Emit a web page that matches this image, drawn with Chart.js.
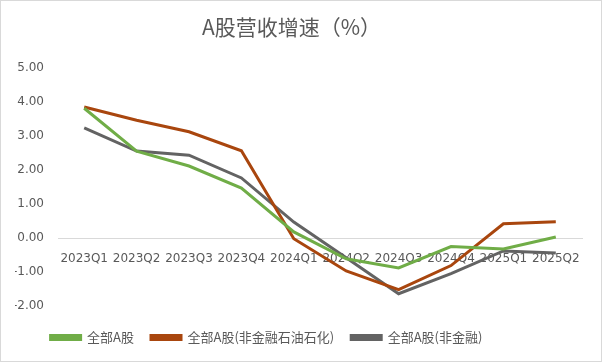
<!DOCTYPE html>
<html>
<head>
<meta charset="utf-8">
<script src="https://cdn.jsdelivr.net/npm/chart.js@4"></script>
<style>
  html, body { margin: 0; padding: 0; background: #fff; }
  #wrap { position: relative; width: 600px; height: 360px; border: 1px solid #d9d9d9; }
</style>
</head>
<body>
<div id="wrap"><canvas id="c"></canvas></div>
<script>
// 季度与三条营收增速序列（单位 %）
const quarters = ["2023Q1", "2023Q2", "2023Q3", "2023Q4", "2024Q1", "2024Q2", "2024Q3", "2024Q4", "2025Q1", "2025Q2"];
const allA = [3.82, 2.56, 2.12, 1.47, 0.18, -0.61, -0.88, -0.25, -0.32, 0.03];
const allAExFinOil = [3.86, 3.47, 3.13, 2.57, -0.02, -0.97, -1.52, -0.81, 0.42, 0.48];
const allAExFin = [3.24, 2.56, 2.44, 1.77, 0.47, -0.58, -1.64, -1.05, -0.38, -0.44];
const yTicks = [5, 4, 3, 2, 1, 0, -1, -2];

const textColor = "#595959";
const fontFamily = "'Noto Sans CJK SC', 'Noto Sans', sans-serif";
const tickFont = { family: "'DejaVu Sans', sans-serif", size: 12 };

const series = (label, data, color) => ({
  label,
  data,
  borderColor: color,
  backgroundColor: color,
  borderWidth: 3,
  pointRadius: 0,
  tension: 0
});

// Excel 里标题和图例都略偏左，这里把它们的排版框收窄一点
const shiftBoxes = {
  id: "shiftBoxes",
  afterLayout(chart) {
    if (chart.legend) chart.legend.right -= 64;
    if (chart.titleBlock) chart.titleBlock.right -= 14;
  }
};

new Chart(document.getElementById("c"), {
  type: "line",
  data: {
    labels: quarters,
    datasets: [
      series("全部A股", allA, "#70ad47"),
      series("全部A股(非金融石油石化)", allAExFinOil, "#a9460e"),
      series("全部A股(非金融)", allAExFin, "#636363")
    ]
  },
  plugins: [shiftBoxes],
  options: {
    responsive: true,
    maintainAspectRatio: false,
    animation: false,
    layout: { padding: { left: 14, right: 19, top: 6, bottom: 7 } },
    scales: {
      x: {
        position: { y: 0 },
        offset: true,
        afterFit: (axis) => { axis.paddingLeft = 0; axis.paddingRight = 0; },
        grid: { display: false, drawTicks: false },
        border: { display: true, color: "#d9d9d9", width: 1 },
        ticks: { color: textColor, font: tickFont, padding: 14, maxRotation: 0, autoSkip: false }
      },
      y: {
        min: -2,
        max: 5,
        afterBuildTicks: (axis) => { axis.ticks = yTicks.map((v) => ({ value: v })); },
        afterFit: (axis) => { axis.width = 43; },
        grid: { display: false, drawTicks: false },
        border: { display: false },
        ticks: {
          color: textColor,
          font: tickFont,
          padding: 14,
          callback: (v) => Number(v).toFixed(2)
        }
      }
    },
    plugins: {
      title: {
        display: true,
        text: "A股营收增速（%）",
        color: textColor,
        font: { family: fontFamily, size: 21, weight: "normal" },
        padding: { top: 7, bottom: 29 }
      },
      legend: {
        position: "bottom",
        title: { display: true, text: "", padding: 0, font: { size: 8, lineHeight: 1 } },
        labels: {
          color: textColor,
          font: { family: fontFamily, size: 13 },
          boxWidth: 30,
          boxHeight: 4,
          padding: 17
        }
      },
      tooltip: { enabled: false }
    }
  }
});
</script>
</body>
</html>
